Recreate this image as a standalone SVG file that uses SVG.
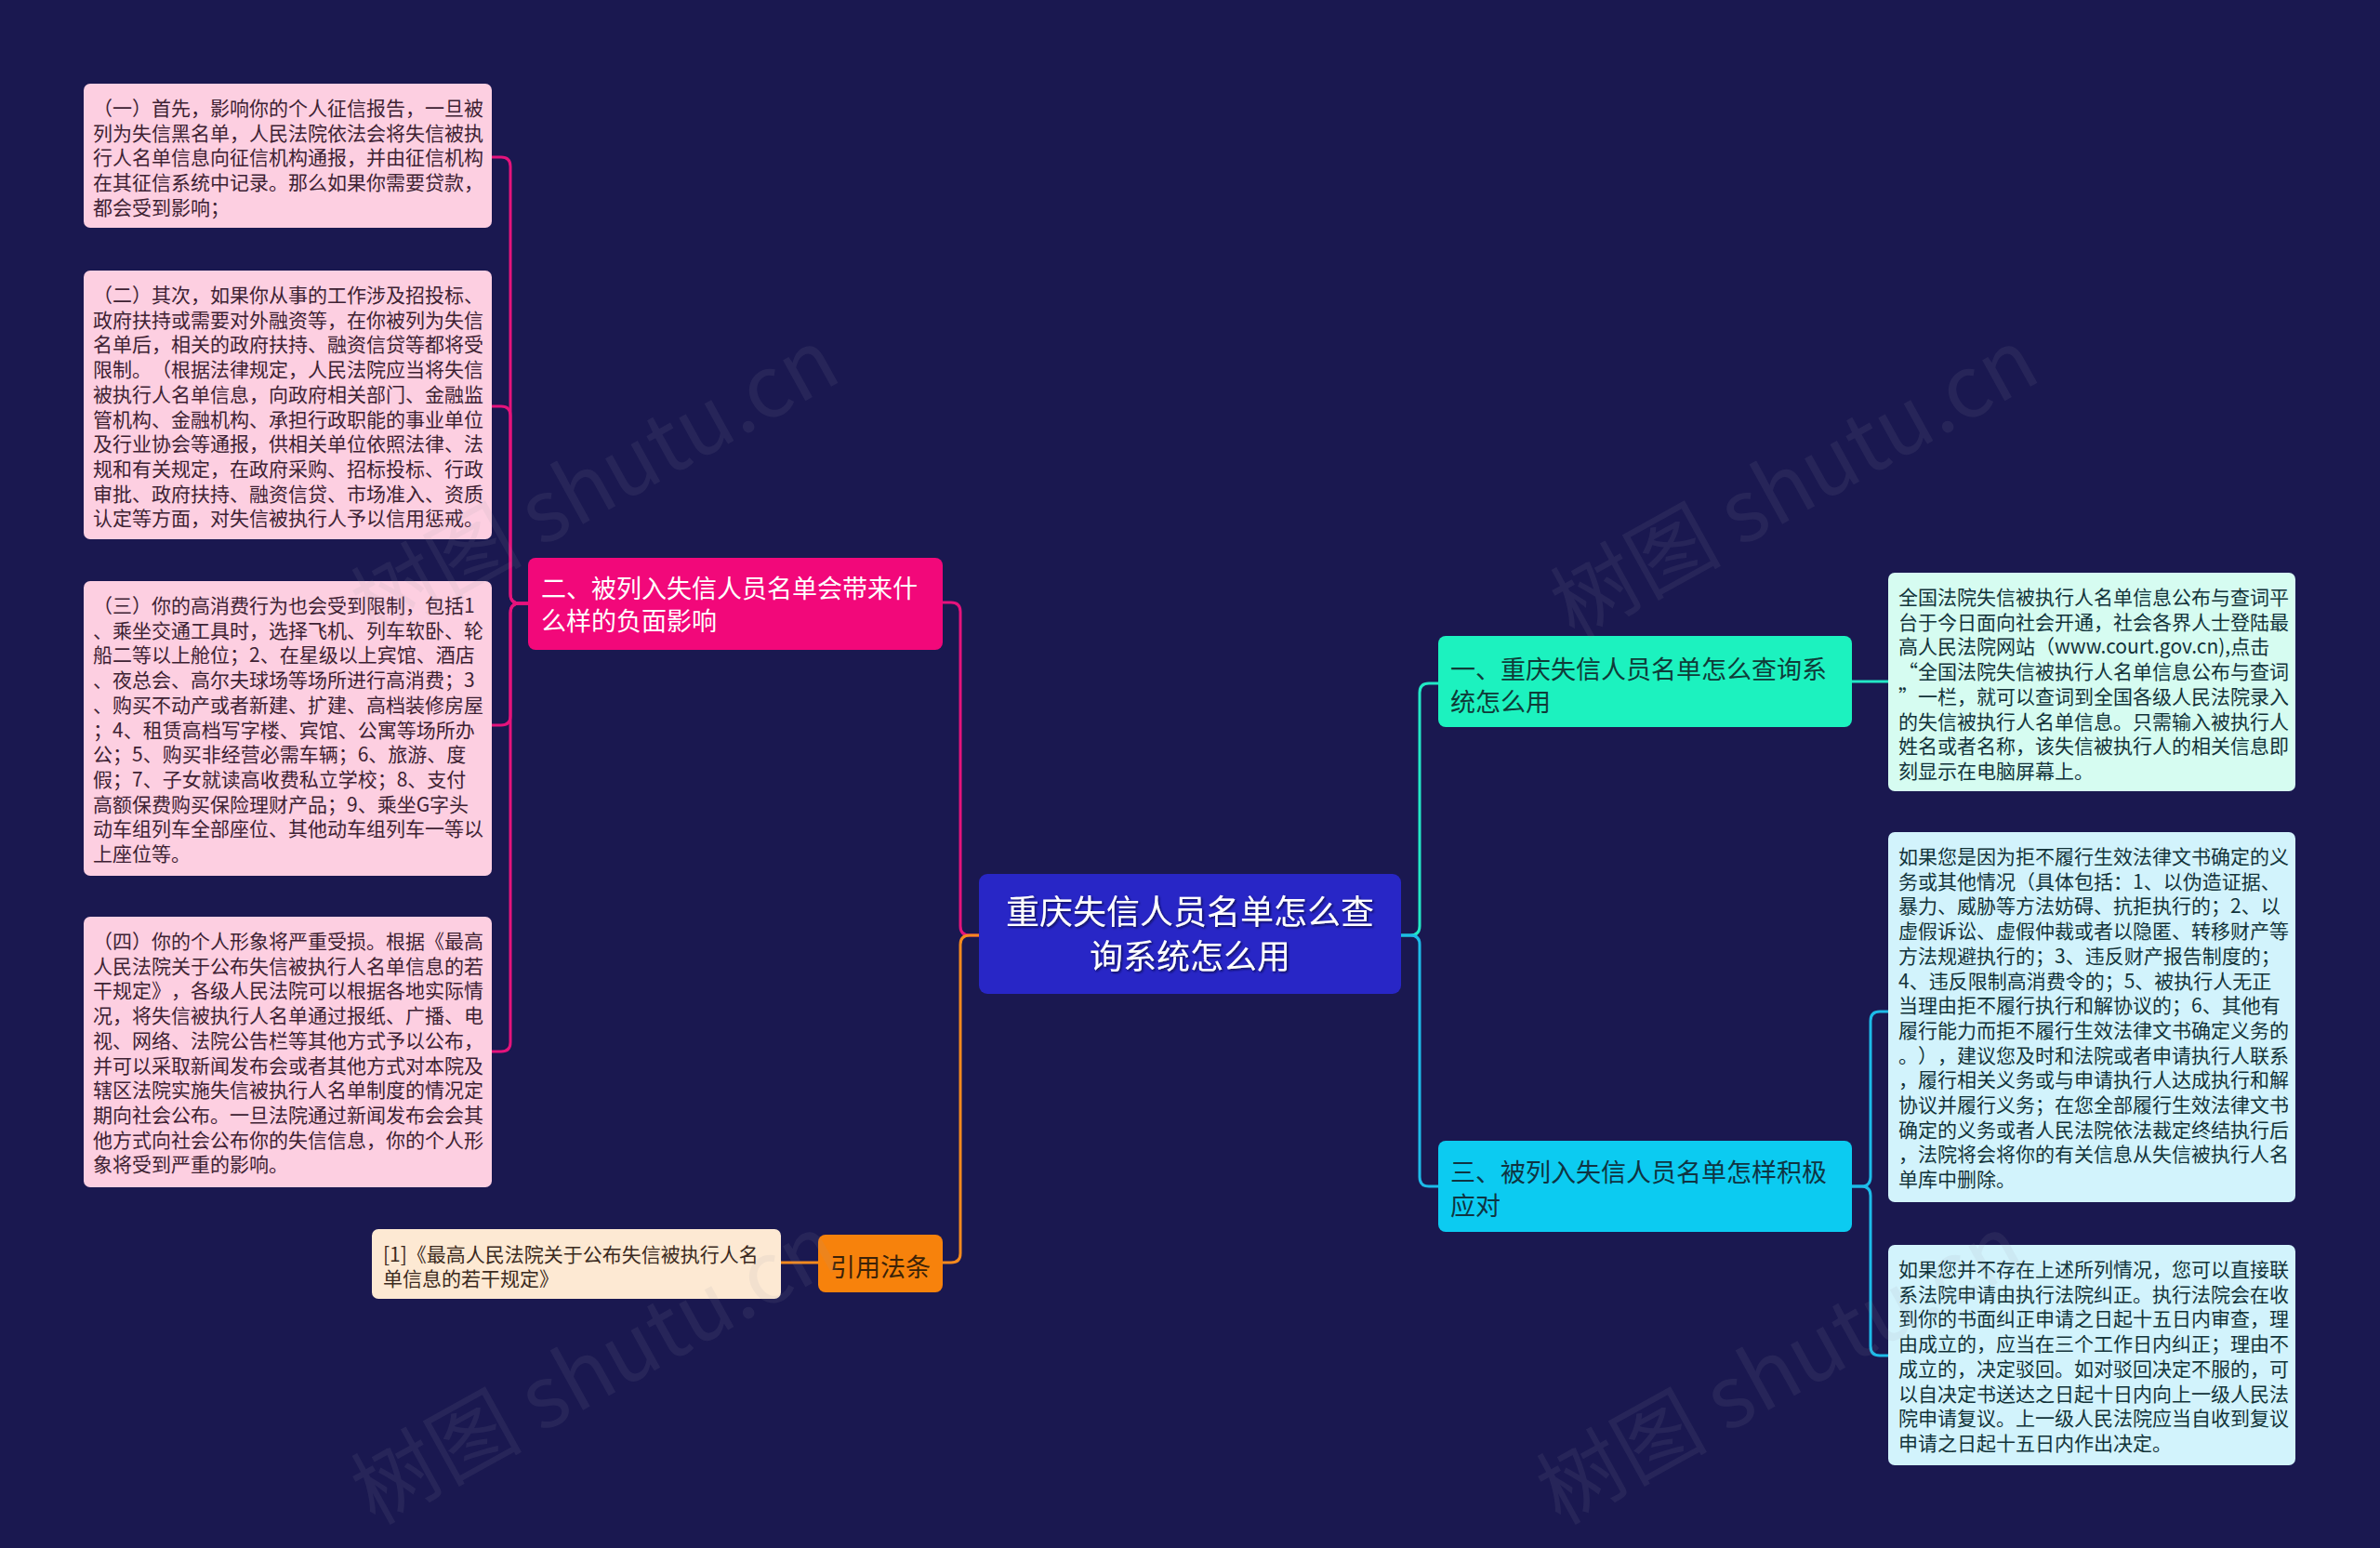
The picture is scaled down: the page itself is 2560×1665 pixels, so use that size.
<svg xmlns="http://www.w3.org/2000/svg" width="2560" height="1665" viewBox="0 0 2560 1665">
<defs>
<style>
text{font-family:"Noto Sans CJK SC","Noto Sans",sans-serif;text-spacing-trim:space-all;}
.bg{fill:#1a1850;}
.leaf{fill:#fdcfe1;}
.leaftx{font-size:21px;fill:#3e2233;}
.rtx{font-size:21px;fill:#12333a;}
.r1{fill:#d6fcf1;}
.r2{fill:#d2f3fc;}
.cite{fill:#fde9d3;}
.c{fill:none;stroke-width:3;stroke-linecap:round;stroke-linejoin:round;}
.pink{stroke:#e5137c;}
.orange{stroke:#f58a1e;}
.teal{stroke:#22e8c6;}
.cyan{stroke:#1dbbe8;}
.wm{font-size:92px;fill:#9a9aa8;opacity:0.1;font-family:"Noto Sans CJK SC","Liberation Serif",serif;}
</style>
<filter id="sh" x="-10%" y="-10%" width="120%" height="130%">
<feDropShadow dx="1.5" dy="1.5" stdDeviation="0.8" flood-color="#10104a" flood-opacity="0.9"/>
</filter>
</defs>
<rect class="bg" x="0" y="0" width="2560" height="1665"/>

<g id="connectors">
<path class="c pink" d="M1053,1006 H1043 Q1033,1006 1033,996 V658 Q1033,648 1023,648 H1014"/>
<path class="c orange" d="M1053,1006 H1043 Q1033,1006 1033,1016 V1348 Q1033,1358 1023,1358 H1014"/>
<path class="c orange" d="M880,1358 H840"/>
<path class="c pink" d="M568,649 H559 Q549,649 549,639 V179 Q549,169 539,169 H529"/>
<path class="c pink" d="M568,649 H559 Q549,649 549,639 V447 Q549,437 539,437 H529"/>
<path class="c pink" d="M568,649 H559 Q549,649 549,659 V770 Q549,780 539,780 H529"/>
<path class="c pink" d="M568,649 H559 Q549,649 549,659 V1121 Q549,1131 539,1131 H529"/>
<path class="c teal" d="M1507,1006 H1517 Q1527,1006 1527,996 V745 Q1527,735 1537,735 H1547"/>
<path class="c cyan" d="M1507,1006 H1517 Q1527,1006 1527,1016 V1266 Q1527,1276 1537,1276 H1547"/>
<path class="c teal" d="M1992,733 H2031"/>
<path class="c cyan" d="M1992,1276 H2002 Q2012,1276 2012,1266 V1098 Q2012,1088 2022,1088 H2031"/>
<path class="c cyan" d="M1992,1276 H2002 Q2012,1276 2012,1286 V1448 Q2012,1458 2022,1458 H2031"/>
</g>

<g id="center">
<rect x="1053" y="940" width="454" height="129" rx="9" fill="#2826c6"/>
<text x="1280" y="994" font-size="36" fill="#ffffff" text-anchor="middle" filter="url(#sh)"><tspan x="1280">重庆失信人员名单怎么查</tspan><tspan x="1280" dy="48">询系统怎么用</tspan></text>
</g>

<g id="branch2">
<rect x="568" y="600" width="446" height="99" rx="8" fill="#f2087a"/>
<text x="582" y="643" font-size="27" fill="#ffffff"><tspan x="582">二、被列入失信人员名单会带来什</tspan><tspan x="582" dy="35">么样的负面影响</tspan></text>
</g>

<g id="leaf2-1">
<rect class="leaf" x="90" y="90" width="439" height="155" rx="7"/>
<text class="leaftx" x="100" y="124"><tspan x="100">（一）首先，影响你的个人征信报告，一旦被</tspan><tspan x="100" dy="26.7">列为失信黑名单，人民法院依法会将失信被执</tspan><tspan x="100" dy="26.7">行人名单信息向征信机构通报，并由征信机构</tspan><tspan x="100" dy="26.7">在其征信系统中记录。那么如果你需要贷款，</tspan><tspan x="100" dy="26.7">都会受到影响；</tspan></text>
</g>

<g id="leaf2-2">
<rect class="leaf" x="90" y="291" width="439" height="289" rx="7"/>
<text class="leaftx" x="100" y="325"><tspan x="100">（二）其次，如果你从事的工作涉及招投标、</tspan><tspan x="100" dy="26.7">政府扶持或需要对外融资等，在你被列为失信</tspan><tspan x="100" dy="26.7">名单后，相关的政府扶持、融资信贷等都将受</tspan><tspan x="100" dy="26.7">限制。（根据法律规定，人民法院应当将失信</tspan><tspan x="100" dy="26.7">被执行人名单信息，向政府相关部门、金融监</tspan><tspan x="100" dy="26.7">管机构、金融机构、承担行政职能的事业单位</tspan><tspan x="100" dy="26.7">及行业协会等通报，供相关单位依照法律、法</tspan><tspan x="100" dy="26.7">规和有关规定，在政府采购、招标投标、行政</tspan><tspan x="100" dy="26.7">审批、政府扶持、融资信贷、市场准入、资质</tspan><tspan x="100" dy="26.7">认定等方面，对失信被执行人予以信用惩戒。</tspan></text>
</g>

<g id="leaf2-3">
<rect class="leaf" x="90" y="625" width="439" height="317" rx="7"/>
<text class="leaftx" x="100" y="659"><tspan x="100">（三）你的高消费行为也会受到限制，包括1</tspan><tspan x="100" dy="26.7">、乘坐交通工具时，选择飞机、列车软卧、轮</tspan><tspan x="100" dy="26.7">船二等以上舱位；2、在星级以上宾馆、酒店</tspan><tspan x="100" dy="26.7">、夜总会、高尔夫球场等场所进行高消费；3</tspan><tspan x="100" dy="26.7">、购买不动产或者新建、扩建、高档装修房屋</tspan><tspan x="100" dy="26.7">；4、租赁高档写字楼、宾馆、公寓等场所办</tspan><tspan x="100" dy="26.7">公；5、购买非经营必需车辆；6、旅游、度</tspan><tspan x="100" dy="26.7">假；7、子女就读高收费私立学校；8、支付</tspan><tspan x="100" dy="26.7">高额保费购买保险理财产品；9、乘坐G字头</tspan><tspan x="100" dy="26.7">动车组列车全部座位、其他动车组列车一等以</tspan><tspan x="100" dy="26.7">上座位等。</tspan></text>
</g>

<g id="leaf2-4">
<rect class="leaf" x="90" y="986" width="439" height="291" rx="7"/>
<text class="leaftx" x="100" y="1020"><tspan x="100">（四）你的个人形象将严重受损。根据《最高</tspan><tspan x="100" dy="26.7">人民法院关于公布失信被执行人名单信息的若</tspan><tspan x="100" dy="26.7">干规定》，各级人民法院可以根据各地实际情</tspan><tspan x="100" dy="26.7">况，将失信被执行人名单通过报纸、广播、电</tspan><tspan x="100" dy="26.7">视、网络、法院公告栏等其他方式予以公布，</tspan><tspan x="100" dy="26.7">并可以采取新闻发布会或者其他方式对本院及</tspan><tspan x="100" dy="26.7">辖区法院实施失信被执行人名单制度的情况定</tspan><tspan x="100" dy="26.7">期向社会公布。一旦法院通过新闻发布会会其</tspan><tspan x="100" dy="26.7">他方式向社会公布你的失信信息，你的个人形</tspan><tspan x="100" dy="26.7">象将受到严重的影响。</tspan></text>
</g>

<g id="law">
<rect x="880" y="1328" width="134" height="62" rx="8" fill="#f7820c"/>
<text x="947" y="1373" font-size="27" fill="#3b2208" text-anchor="middle">引用法条</text>
</g>

<g id="law-1">
<rect class="cite" x="400" y="1322" width="440" height="75" rx="7"/>
<text x="412" y="1357" font-size="21" fill="#3b2a20"><tspan x="412">[1]《最高人民法院关于公布失信被执行人名</tspan><tspan x="412" dy="26">单信息的若干规定》</tspan></text>
</g>

<g id="branch1">
<rect x="1547" y="684" width="445" height="98" rx="8" fill="#1cf2bf"/>
<text x="1560" y="730" font-size="27" fill="#0f3b38"><tspan x="1560">一、重庆失信人员名单怎么查询系</tspan><tspan x="1560" dy="35">统怎么用</tspan></text>
</g>

<g id="leaf1-1">
<rect class="r1" x="2031" y="616" width="438" height="235" rx="7"/>
<text class="rtx" x="2042" y="650"><tspan x="2042">全国法院失信被执行人名单信息公布与查词平</tspan><tspan x="2042" dy="26.7">台于今日面向社会开通，社会各界人士登陆最</tspan><tspan x="2042" dy="26.7">高人民法院网站（www.court.gov.cn),点击</tspan><tspan x="2042" dy="26.7">“全国法院失信被执行人名单信息公布与查词</tspan><tspan x="2042" dy="26.7">”一栏，就可以查词到全国各级人民法院录入</tspan><tspan x="2042" dy="26.7">的失信被执行人名单信息。只需输入被执行人</tspan><tspan x="2042" dy="26.7">姓名或者名称，该失信被执行人的相关信息即</tspan><tspan x="2042" dy="26.7">刻显示在电脑屏幕上。</tspan></text>
</g>

<g id="branch3">
<rect x="1547" y="1227" width="445" height="98" rx="8" fill="#0ccbf1"/>
<text x="1560" y="1271" font-size="27" fill="#0f3442"><tspan x="1560">三、被列入失信人员名单怎样积极</tspan><tspan x="1560" dy="36">应对</tspan></text>
</g>

<g id="leaf3-1">
<rect class="r2" x="2031" y="895" width="438" height="398" rx="7"/>
<text class="rtx" x="2042" y="929"><tspan x="2042">如果您是因为拒不履行生效法律文书确定的义</tspan><tspan x="2042" dy="26.7">务或其他情况（具体包括：1、以伪造证据、</tspan><tspan x="2042" dy="26.7">暴力、威胁等方法妨碍、抗拒执行的；2、以</tspan><tspan x="2042" dy="26.7">虚假诉讼、虚假仲裁或者以隐匿、转移财产等</tspan><tspan x="2042" dy="26.7">方法规避执行的；3、违反财产报告制度的；</tspan><tspan x="2042" dy="26.7">4、违反限制高消费令的；5、被执行人无正</tspan><tspan x="2042" dy="26.7">当理由拒不履行执行和解协议的；6、其他有</tspan><tspan x="2042" dy="26.7">履行能力而拒不履行生效法律文书确定义务的</tspan><tspan x="2042" dy="26.7">。），建议您及时和法院或者申请执行人联系</tspan><tspan x="2042" dy="26.7">，履行相关义务或与申请执行人达成执行和解</tspan><tspan x="2042" dy="26.7">协议并履行义务；在您全部履行生效法律文书</tspan><tspan x="2042" dy="26.7">确定的义务或者人民法院依法裁定终结执行后</tspan><tspan x="2042" dy="26.7">，法院将会将你的有关信息从失信被执行人名</tspan><tspan x="2042" dy="26.7">单库中删除。</tspan></text>
</g>

<g id="leaf3-2">
<rect class="r2" x="2031" y="1339" width="438" height="237" rx="7"/>
<text class="rtx" x="2042" y="1373"><tspan x="2042">如果您并不存在上述所列情况，您可以直接联</tspan><tspan x="2042" dy="26.7">系法院申请由执行法院纠正。执行法院会在收</tspan><tspan x="2042" dy="26.7">到你的书面纠正申请之日起十五日内审查，理</tspan><tspan x="2042" dy="26.7">由成立的，应当在三个工作日内纠正；理由不</tspan><tspan x="2042" dy="26.7">成立的，决定驳回。如对驳回决定不服的，可</tspan><tspan x="2042" dy="26.7">以自决定书送达之日起十日内向上一级人民法</tspan><tspan x="2042" dy="26.7">院申请复议。上一级人民法院应当自收到复议</tspan><tspan x="2042" dy="26.7">申请之日起十五日内作出决定。</tspan></text>
</g>

<g id="watermark">
<text class="wm" x="640" y="552" text-anchor="middle" transform="rotate(-29 640 520)">树图 shutu.cn</text>
<text class="wm" x="1930" y="552" text-anchor="middle" transform="rotate(-29 1930 520)">树图 shutu.cn</text>
<text class="wm" x="640" y="1505" text-anchor="middle" transform="rotate(-29 640 1473)">树图 shutu.cn</text>
<text class="wm" x="1915" y="1505" text-anchor="middle" transform="rotate(-29 1915 1473)">树图 shutu.cn</text>
</g>
</svg>
